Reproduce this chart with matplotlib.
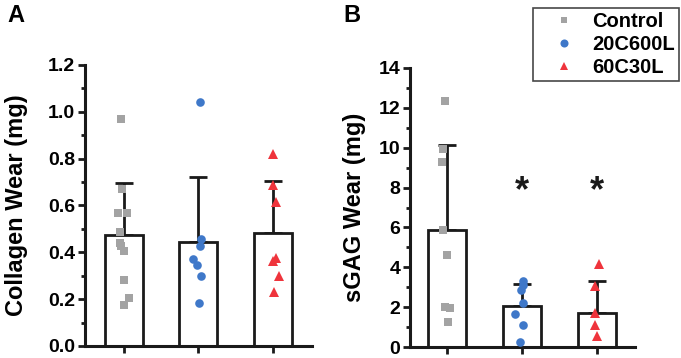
import numpy as np
import matplotlib
matplotlib.use("Agg")
import matplotlib.pyplot as plt
from matplotlib.lines import Line2D
from matplotlib.ticker import FormatStrFormatter

plt.rcParams["font.family"] = ["Liberation Sans", "DejaVu Sans"]
plt.rcParams["font.weight"] = "bold"

# Data
groups = ["Control", "20C600L", "60C30L"]

collagen_ctrl = [0.968, 0.669, 0.569, 0.567, 0.486, 0.439, 0.428, 0.407, 0.282, 0.204, 0.176]
collagen_20c = [1.043, 0.456, 0.428, 0.371, 0.346, 0.300, 0.185]
collagen_60c = [0.818, 0.687, 0.614, 0.363, 0.377, 0.300, 0.229]
collagen_mean = [0.474, 0.445, 0.481]
collagen_sd = [0.223, 0.278, 0.224]

sgag_ctrl = [12.33, 9.95, 9.27, 5.89, 4.60, 2.01, 1.96, 1.25]
sgag_20c = [3.29, 3.13, 2.84, 2.21, 1.67, 1.12, 0.25]
sgag_60c = [4.18, 3.08, 1.71, 1.12, 0.57]
sgag_mean = [5.89, 2.04, 1.71]
sgag_sd = [4.23, 1.14, 1.62]

sig_groups = [1, 2]
sig_level = 7.8

# horizontal scatter of the points (category units)
jit_a = [
    [-0.04, -0.02, -0.08, 0.04, -0.05, -0.05, -0.03, 0.0, 0.0, 0.07, 0.01],
    [0.03, 0.04, 0.03, -0.07, -0.02, 0.04, 0.01],
    [0.0, 0.0, 0.04, 0.0, 0.05, 0.08, 0.02],
]
jit_b = [
    [-0.03, -0.05, -0.07, -0.05, 0.0, -0.02, 0.04, 0.01],
    [0.02, 0.01, -0.01, 0.01, -0.09, 0.01, -0.03],
    [0.03, -0.02, -0.02, -0.02, 0.0],
]

colors = ["#A3A3A3", "#3F78C9", "#EF343C"]
markers = ["s", "o", "^"]
msizes = [5.2, 6.2, 6.8]
ink = "#1a1a1a"

fig = plt.figure(figsize=(6.81, 3.58), dpi=100)
ax_a = fig.add_axes([85 / 681, 1 - 346 / 358, 227 / 681, 281 / 358])
ax_b = fig.add_axes([410 / 681, 1 - 347 / 358, 225 / 681, 279 / 358])


def draw_panel(ax, means, sds, pts, jit, ylim, major, minor):
    x = np.arange(len(means))
    ax.bar(x, means, width=0.51, color="white", edgecolor=ink,
           linewidth=2.0, zorder=2)
    ax.errorbar(x, means, yerr=[np.zeros(len(sds)), sds], fmt="none",
                ecolor=ink, elinewidth=2.0, capsize=6.5,
                capthick=2.0, zorder=1)
    for i, vals in enumerate(pts):
        ax.plot(x[i] + np.array(jit[i]), vals, linestyle="none",
                marker=markers[i], color=colors[i], markersize=msizes[i],
                markeredgewidth=0, zorder=3, clip_on=False)
    ax.set_ylim(*ylim)
    ax.set_yticks(major)
    ax.set_yticks(minor, minor=True)
    ax.set_xticks(x)
    ax.set_xticklabels([])
    for s in ["top", "right"]:
        ax.spines[s].set_visible(False)
    for s in ["left", "bottom"]:
        ax.spines[s].set_linewidth(2.2)
        ax.spines[s].set_color(ink)
    ax.tick_params(axis="both", which="major", direction="out", length=5,
                   width=2.0, color=ink, labelsize=14, pad=2)
    ax.tick_params(axis="y", which="minor", direction="out", length=3,
                   width=2.0, color=ink)
    for lab in ax.get_yticklabels():
        lab.set_fontweight("bold")


draw_panel(ax_a, collagen_mean, collagen_sd,
           [collagen_ctrl, collagen_20c, collagen_60c], jit_a,
           (0, 1.2), np.arange(0, 1.21, 0.2), np.arange(0.1, 1.2, 0.2))
ax_a.set_xlim(-0.52, 2.53)
ax_a.yaxis.set_major_formatter(FormatStrFormatter("%.1f"))
ax_a.set_ylabel("Collagen Wear (mg)", fontsize=17, fontweight="bold")
ax_a.yaxis.set_label_coords(-0.25, 0.5)

draw_panel(ax_b, sgag_mean, sgag_sd,
           [sgag_ctrl, sgag_20c, sgag_60c], jit_b,
           (0, 14), np.arange(0, 15, 2), np.arange(1, 14, 2))
ax_b.set_xlim(-0.49, 2.51)
ax_b.set_ylabel("sGAG Wear (mg)", fontsize=17, fontweight="bold")
ax_b.yaxis.set_label_coords(-0.195, 0.5)

for g in sig_groups:
    ax_b.text(g, sig_level, "*", fontsize=26, fontweight="bold",
              ha="center", va="center", color=ink)

fig.text(7 / 681, 1 - 4 / 358, "A", fontsize=17, fontweight="bold", va="top")
fig.text(343 / 681, 1 - 4 / 358, "B", fontsize=17, fontweight="bold", va="top")

handles = [Line2D([], [], linestyle="none", marker=markers[i],
                  color=colors[i], markersize=msizes[i] - 0.4,
                  markeredgewidth=0) for i in range(3)]
leg = fig.legend(handles, groups, loc="upper right",
                 bbox_to_anchor=(678.5 / 681, 1 - 8 / 358), frameon=True,
                 fancybox=False, borderaxespad=0, handlelength=2.6,
                 handletextpad=0.1, labelspacing=0.2, borderpad=0.2,
                 prop={"size": 14.5, "weight": "bold"})
leg.get_frame().set_edgecolor(ink)
leg.get_frame().set_linewidth(1.2)

fig.savefig("out.png", dpi=100)
